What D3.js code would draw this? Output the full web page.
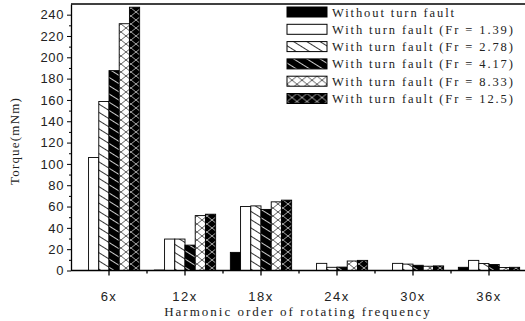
<!DOCTYPE html>
<html>
<head>
<meta charset="utf-8">
<script src="https://cdn.jsdelivr.net/npm/d3@7"></script>
<style>
  body { margin: 0; background: #fff; }
  svg { display: block; font-family: "Liberation Serif", "Times New Roman", serif; }
</style>
</head>
<body>
<svg id="chart"></svg>
<script>
// harmonic orders
const categories = ["6x", "12x", "18x", "24x", "30x", "36x"];
const seriesNames = [
  "Without turn fault",
  "With turn fault (Fr = 1.39)",
  "With turn fault (Fr = 2.78)",
  "With turn fault (Fr = 4.17)",
  "With turn fault (Fr = 8.33)",
  "With turn fault (Fr = 12.5)"
];
// torque values (mNm), one array per series, in category order
const noFault = [0, 0.4, 17, 0, 0, 3];
const fr139 = [106, 29.5, 60, 6.7, 6.7, 9.5];
const fr278 = [158.5, 29.5, 60.6, 3, 6, 6.5];
const fr417 = [187.5, 23.8, 57.3, 3.2, 4.9, 5.6];
const fr833 = [231.5, 51.5, 64.4, 8.9, 4, 2.8];
const fr125 = [247, 52.8, 66, 9.5, 4.3, 3];
const yTicks = [0, 20, 40, 60, 80, 100, 120, 140, 160, 180, 200, 220, 240];

const allSeries = [noFault, fr139, fr278, fr417, fr833, fr125];

const width = 525, height = 321;
const margin = { top: 4, right: 0, bottom: 50, left: 71 };

const svg = d3.select("#chart").attr("width", width).attr("height", height);

// fill patterns
const defs = svg.append("defs");
function hatch(id, bg, fg, angle) {
  const p = defs.append("pattern")
    .attr("id", id)
    .attr("patternUnits", "userSpaceOnUse")
    .attr("width", 7).attr("height", 7)
    .attr("patternTransform", `rotate(${angle})`);
  p.append("rect").attr("width", 7).attr("height", 7).attr("fill", bg);
  p.append("line").attr("x1", -1).attr("x2", 8).attr("y1", 3.5).attr("y2", 3.5)
    .attr("stroke", fg).attr("stroke-width", 0.8);
}
function cross(id, bg, fg) {
  const p = defs.append("pattern")
    .attr("id", id)
    .attr("patternUnits", "userSpaceOnUse")
    .attr("width", 10).attr("height", 8);
  p.append("rect").attr("width", 10).attr("height", 8).attr("fill", bg);
  p.append("path").attr("d", "M0,0L10,8M0,8L10,0")
    .attr("stroke", fg).attr("stroke-width", 0.8).attr("fill", "none");
}
hatch("hatchW", "#fff", "#000", 32);
hatch("hatchB", "#000", "#fff", 32);
cross("crossW", "#fff", "#333");
cross("crossB", "#000", "#ccc");

const fills = ["#000", "#fff", "url(#hatchW)", "url(#hatchB)", "url(#crossW)", "url(#crossB)"];

const x = d3.scaleBand()
  .domain(categories)
  .range([margin.left, margin.left + 76 * categories.length])
  .padding(0);

const xs = d3.scaleBand()
  .domain(d3.range(seriesNames.length))
  .range([0, x.bandwidth()])
  .paddingInner(0)
  .paddingOuter(0.72);

const y = d3.scaleLinear()
  .domain([0, 250])
  .range([height - margin.bottom - 0.5, margin.top]);

// bars
const groups = svg.append("g").selectAll("g")
  .data(categories)
  .join("g")
  .attr("transform", d => `translate(${x(d)},0)`);

groups.selectAll("rect")
  .data((c, ci) => allSeries.map((s, si) => ({ si, v: s[ci] })))
  .join("rect")
  .attr("x", d => xs(d.si))
  .attr("y", d => y(d.v))
  .attr("width", xs.bandwidth())
  .attr("height", d => y(0) - y(d.v))
  .attr("fill", d => fills[d.si])
  .attr("stroke", "#000")
  .attr("stroke-width", 0.9);

// y axis
const yAxis = svg.append("g")
  .attr("transform", `translate(${margin.left},0)`)
  .call(d3.axisLeft(y).tickValues(yTicks).tickSize(4).tickSizeOuter(0));
yAxis.select(".domain").attr("stroke-width", 1.3);
yAxis.selectAll("text")
  .attr("x", -7)
  .style("font-size", "13px")
  .style("letter-spacing", "0.6px")
  .attr("fill", "#222");

svg.append("g")
  .attr("transform", `translate(${margin.left},0)`)
  .call(d3.axisLeft(y).tickValues(yTicks.map(t => t + 10).filter(t => t < 250)).tickSize(2).tickFormat(""))
  .select(".domain").remove();

// x axis
const xAxis = svg.append("g")
  .attr("transform", `translate(0,${y(0)})`)
  .call(d3.axisBottom(x).tickSize(5).tickSizeOuter(0));
xAxis.select(".domain").attr("d", `M${margin.left},0H${width}`).attr("stroke-width", 1.3);
xAxis.selectAll(".tick line").attr("stroke-width", 1.3);
xAxis.selectAll("text")
  .attr("y", 21)
  .style("font-size", "13px")
  .style("letter-spacing", "1.5px")
  .attr("fill", "#222");

// small separators between categories
svg.append("g").selectAll("line")
  .data(categories.slice(1))
  .join("line")
  .attr("x1", d => x(d)).attr("x2", d => x(d))
  .attr("y1", y(0)).attr("y2", y(0) + 3)
  .attr("stroke", "#000").attr("stroke-width", 1.3);

// top frame line
svg.append("line")
  .attr("x1", margin.left).attr("x2", width)
  .attr("y1", y(250)).attr("y2", y(250))
  .attr("stroke", "#000").attr("stroke-width", 1.3);

// axis titles
svg.append("text")
  .attr("transform", `translate(19,141) rotate(-90)`)
  .attr("text-anchor", "middle")
  .style("font-size", "13px")
  .style("letter-spacing", "1.2px")
  .attr("fill", "#222")
  .text("Torque(mNm)");

svg.append("text")
  .attr("x", 298).attr("y", 316)
  .attr("text-anchor", "middle")
  .style("font-size", "13px")
  .style("letter-spacing", "2px")
  .attr("fill", "#222")
  .text("Harmonic order of rotating frequency");

// legend
const legend = svg.append("g").selectAll("g")
  .data(seriesNames)
  .join("g")
  .attr("transform", (d, i) => `translate(287,${7 + i * 17.3})`);

legend.append("rect")
  .attr("width", 40).attr("height", 10)
  .attr("fill", (d, i) => fills[i])
  .attr("stroke", "#000").attr("stroke-width", 1);

legend.append("text")
  .attr("x", 45).attr("y", 9.5)
  .style("font-size", "12.5px")
  .style("letter-spacing", "1.9px")
  .attr("fill", "#222")
  .text(d => d);
</script>
</body>
</html>
